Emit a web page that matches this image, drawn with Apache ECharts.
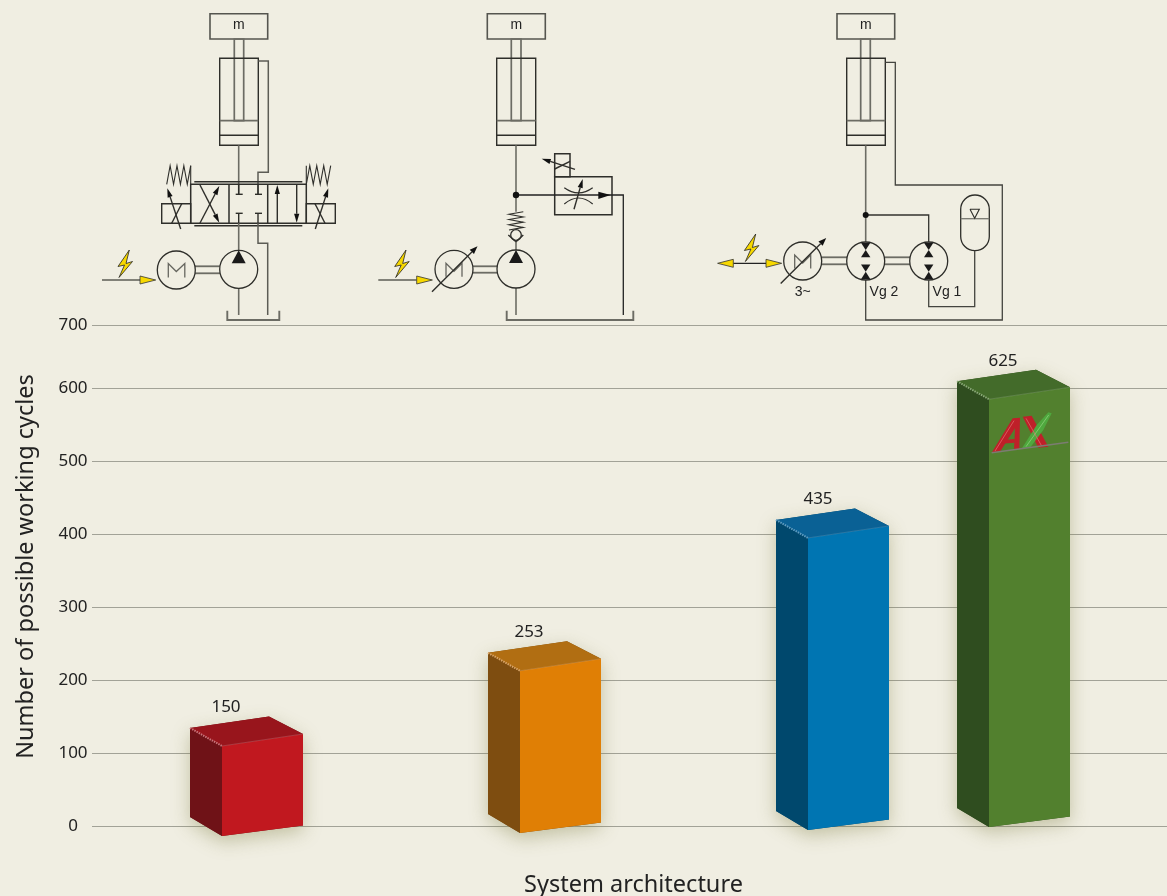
<!DOCTYPE html>
<html>
<head>
<meta charset="utf-8">
<style>html,body{margin:0;padding:0;background:#f0eee2}#chart{width:1167px;height:896px}</style>
<script src="https://cdn.jsdelivr.net/npm/echarts@6/dist/echarts.min.js"></script>
</head>
<body>
<div id="chart"></div>
<script>
// Working cycles per system architecture
const cycles = [150, 253, 435, 625];
const architecturePosition = [1.77, 4.75, 7.63, 9.44];
const labelShift = [-43, -38, -37, -33];
const baseLift = [0, 3, 6, 9];
const tickLabels = ['0', '100', '200', '300', '400', '500', '600', '700'];
const faceFront = ['#c1181f', '#e07f05', '#0075b2', '#52802e'];
const faceTop = ['#98151c', '#b16e12', '#0a6195', '#436b2a'];
const faceSide = ['#6f1217', '#7e4d10', '#00486d', '#2f4d1f'];
const edgeLight = ['#c8747a', '#d8a468', '#5f9cc0', '#8aa878'];

const INK = '#2e2e2a';
const ROD = '#6c6c64';

// Small drawing helpers for the hydraulic circuit symbols
function line(points, width, color) {
  return { type: 'polyline', silent: true, z: 20, shape: { points: points },
    style: { fill: null, stroke: color || INK, lineWidth: width || 1.4 } };
}
function box(x0, y0, x1, y1, width, color, fill) {
  return { type: 'rect', silent: true, z: 20, shape: { x: x0, y: y0, width: x1 - x0, height: y1 - y0 },
    style: { fill: fill || null, stroke: color || INK, lineWidth: width || 1.4 } };
}
function circle(cx, cy, r) {
  return { type: 'circle', silent: true, z: 20, shape: { cx: cx, cy: cy, r: r },
    style: { fill: '#f0eee2', stroke: INK, lineWidth: 1.3 } };
}
function dot(cx, cy, r) {
  return { type: 'circle', silent: true, z: 21, shape: { cx: cx, cy: cy, r: r || 3 }, style: { fill: '#111' } };
}
function poly(points, fill, stroke) {
  return { type: 'polygon', silent: true, z: 21, shape: { points: points },
    style: { fill: fill, stroke: stroke || null, lineWidth: 0.8 } };
}
function note(x, y, text) {
  return { type: 'text', silent: true, z: 22, x: x, y: y,
    style: { text: text, fill: '#222', font: '14px "Liberation Sans"', align: 'center', verticalAlign: 'middle' } };
}
function arrow(x1, y1, x2, y2, len, half) {
  const a = Math.atan2(y2 - y1, x2 - x1);
  const bx = x2 - Math.cos(a) * len, by = y2 - Math.sin(a) * len;
  const nx = -Math.sin(a) * half, ny = Math.cos(a) * half;
  return [line([[x1, y1], [bx, by]]),
    poly([[x2, y2], [bx + nx, by + ny], [bx - nx, by - ny]], '#111')];
}
function cylinder(x0, x1, rod0, rod1) {
  return [
    box(rod0, 39, rod1, 120.7, 1.7, ROD),
    box(x0, 58.3, x1, 145.3, 1.4),
    line([[x0, 120.7], [x1, 120.7]], 1.7, ROD),
    line([[x0, 135.3], [x1, 135.3]], 1.4)
  ];
}
function mass(x0, x1) {
  return [box(x0, 13.7, x1, 39, 1.6, '#55554f'), note((x0 + x1) / 2, 25.5, 'm')];
}
function bolt(dx, dy) {
  const p = [[129.3, 250], [118, 266.5], [124.5, 265], [119, 277.5], [132.5, 261.5], [126, 263.5], [129.3, 250]];
  return poly(p.map(q => [q[0] + dx, q[1] + dy]), '#f7d800', '#222');
}
function yellowArrow(x0, x1, y) {
  const d = x1 > x0 ? 1 : -1;
  return poly([[x0, y - 4], [x0 + d * 15.7, y], [x0, y + 4]], '#f7d800', '#333');
}
function pump(cx, cy) {
  return [circle(cx, cy, 19), poly([[cx, cy - 19], [cx - 7, cy - 6], [cx + 7, cy - 6]], '#1a1a1a')];
}
function bowtie(cx, cy) {
  const h = 4.7;
  const tips = [[-18.3, -11, -3.7], [3.6, 10.7, 18.3]];
  const out = [circle(cx, cy, 19)];
  tips.forEach(t => {
    out.push(poly([[cx - h, cy + t[0]], [cx + h, cy + t[0]], [cx, cy + t[1]]], '#1a1a1a'));
    out.push(poly([[cx - h, cy + t[2]], [cx + h, cy + t[2]], [cx, cy + t[1]]], '#1a1a1a'));
  });
  return out;
}
function motor(cx, cy, variable) {
  const out = [circle(cx, cy, 19)];
  if (variable) {
    out.push(line([[cx - 8, cy + 7.5], [cx - 8, cy - 6], [cx, cy + 2], [cx + 8, cy - 6], [cx + 8, cy + 7.5]], 1.3, '#66665f'));
    out.push(...arrow(cx - 22, cy + 22.5, cx + 23.5, cy - 23, 8, 3));
  } else {
    out.push(line([[cx - 8, cy + 7.5], [cx - 8, cy - 6.5], [cx, cy + 1.5], [cx + 8.5, cy - 6.5], [cx + 8.5, cy + 7.5]], 1.3, '#66665f'));
  }
  return out;
}
function shaft(x0, x1, y0, y1) {
  return [line([[x0, y0], [x1, y0]], 1.8, ROD), line([[x0, y1], [x1, y1]], 1.8, ROD)];
}
function tank(x0, x1) {
  return line([[x0, 310.7], [x0, 320], [x1, 320], [x1, 310.7]], 1.9, ROD);
}
function zigzagH(x0, x1, yA, yB, n) {
  const pts = [];
  for (let i = 0; i <= n; i++) pts.push([x0 + (x1 - x0) * i / n, i % 2 ? yA : yB]);
  return line(pts, 1.1);
}
function zigzagV(xA, xB, y0, y1, n) {
  const pts = [];
  for (let i = 0; i <= n; i++) pts.push([i % 2 ? xA : xB, y0 + (y1 - y0) * i / n]);
  return line(pts, 1.1);
}

// Circuit 1: constant pump with directional valve
const circuitValve = [
  ...mass(210, 267.7),
  ...cylinder(219.7, 258.3, 234.3, 243.7),
  line([[238.7, 145.3], [238.7, 194]], 1.6, ROD),
  line([[258.3, 61], [268.3, 61], [268.3, 172.3], [258, 172.3], [258, 194]], 1.5, '#5c5c55'),
  line([[194.3, 181.7], [302.3, 181.7]], 1.5),
  line([[194.3, 225.7], [302.3, 225.7]], 1.5),
  box(190.7, 184.3, 306.3, 223.3, 1.5),
  line([[229, 184.3], [229, 223.3]], 1.5),
  line([[267.7, 184.3], [267.7, 223.3]], 1.5),
  box(161.7, 203.7, 190.7, 223.3),
  box(306.3, 203.7, 335.3, 223.3),
  zigzagH(166.7, 190.7, 165.7, 184.3, 7),
  line([[190.7, 165.7], [190.7, 184.3]], 1.1),
  zigzagH(306.3, 330.7, 165.7, 184.3, 7),
  line([[306.3, 165.7], [306.3, 184.3]], 1.1),
  ...arrow(180.7, 229, 167.3, 188.3, 9, 2.6),
  line([[171.7, 223.3], [181.7, 203.7]]),
  ...arrow(315.3, 229, 328.3, 188.3, 9, 2.6),
  line([[315, 203.7], [325, 223.3]]),
  ...arrow(200, 185, 219.3, 222.7, 9, 2.6),
  ...arrow(200, 223, 219.3, 186, 9, 2.6),
  line([[238.7, 184.3], [238.7, 194]]), line([[235.7, 194.3], [242.7, 194.3]]),
  line([[258, 184.3], [258, 194]]), line([[255, 194.3], [262, 194.3]]),
  line([[238.7, 213.3], [238.7, 223.3]]), line([[235.7, 213.3], [242.7, 213.3]]),
  line([[258, 213.3], [258, 223.3]]), line([[255, 213.3], [262, 213.3]]),
  ...arrow(277.3, 223, 277.3, 185, 9, 2.6),
  ...arrow(296.7, 185, 296.7, 222.7, 9, 2.6),
  line([[238.7, 223.3], [238.7, 250]], 1.6, ROD),
  line([[258, 223.3], [258, 243.3], [267.7, 243.3], [267.7, 315]], 1.5, '#5c5c55'),
  line([[238.7, 288], [238.7, 315]], 1.6, ROD),
  ...shaft(195, 220, 266.3, 273.3),
  ...pump(238.7, 269.3),
  ...motor(176.3, 270, false),
  tank(227.3, 279.3),
  line([[102, 280], [140, 280]], 1.4, '#5c5c55'),
  yellowArrow(140, 155.7, 280),
  bolt(0, 0)
];

// Circuit 2: variable motor-pump with throttle valve
const circuitThrottle = [
  ...mass(487.3, 545.3),
  ...cylinder(496.7, 535.7, 511.3, 521),
  line([[516, 145.3], [516, 211.7]], 1.6, ROD),
  dot(516, 195, 3.2),
  zigzagV(509, 523.3, 211.7, 230, 7),
  { type: 'circle', silent: true, z: 20, shape: { cx: 516, cy: 235, r: 5.3 }, style: { fill: null, stroke: INK, lineWidth: 1.3 } },
  line([[508.3, 235], [516, 241.7], [523.3, 235]]),
  line([[516, 241.7], [516, 250]], 1.6, ROD),
  line([[516, 288], [516, 315]], 1.6, ROD),
  ...shaft(473, 497.3, 266.3, 272.7),
  ...pump(516, 269),
  ...motor(454, 269.3, true),
  tank(506.7, 633.3),
  box(554.7, 176.7, 612, 214.7, 1.5),
  box(554.7, 153.7, 570, 176.7, 1.5),
  ...arrow(575, 169.3, 541.7, 158.7, 9, 2.6),
  line([[554.7, 169], [570, 161.3]]),
  line([[516, 195], [623.3, 195], [623.3, 315]], 1.3, '#222'),
  poly([[610.7, 195], [598.3, 191.7], [598.3, 199]], '#111'),
  { type: 'bezierCurve', silent: true, z: 20, shape: { x1: 564.3, y1: 187.7, x2: 592.7, y2: 187.7, cpx1: 578.5, cpy1: 198 }, style: { fill: null, stroke: INK, lineWidth: 1.2 } },
  { type: 'bezierCurve', silent: true, z: 20, shape: { x1: 564.3, y1: 204, x2: 592.7, y2: 204, cpx1: 578.5, cpy1: 192 }, style: { fill: null, stroke: INK, lineWidth: 1.2 } },
  ...arrow(574, 209.3, 582.7, 179, 9, 2.6),
  line([[378.3, 280], [416.7, 280]], 1.4, '#5c5c55'),
  yellowArrow(416.7, 432.3, 280),
  bolt(276.7, 0)
];

// Circuit 3: electro-hydraulic drive with two displacement units and accumulator
const circuitDrive = [
  ...mass(837, 894.7),
  ...cylinder(846.7, 885.3, 860.7, 870.3),
  line([[865.7, 145.3], [865.7, 242.7]], 1.6, ROD),
  dot(865.7, 215, 3),
  line([[865.7, 215], [928.7, 215], [928.7, 242.7]], 1.3, '#33332f'),
  line([[885.3, 62.3], [895.3, 62.3], [895.3, 185], [1002.3, 185], [1002.3, 320], [865.7, 320], [865.7, 280]], 1.3, '#44443f'),
  ...shaft(822, 847.3, 257.3, 264.3),
  ...shaft(885, 910, 257.3, 264.3),
  ...bowtie(865.7, 261),
  ...bowtie(928.7, 261),
  ...motor(802.7, 261, true),
  { type: 'rect', silent: true, z: 20, shape: { x: 960.7, y: 195, width: 28.6, height: 55.7, r: 14.3 }, style: { fill: null, stroke: INK, lineWidth: 1.3 } },
  line([[960.7, 218.7], [989.3, 218.7]], 1.3, '#77776f'),
  line([[970, 209.3], [979.3, 209.3], [974.7, 218.3], [970, 209.3]], 1.1),
  line([[974.7, 250.7], [974.7, 306.7], [928.7, 306.7], [928.7, 280]], 1.3, '#44443f'),
  line([[733.3, 263.3], [766, 263.3]], 1.3, '#222'),
  yellowArrow(733.3, 717.7, 263.3),
  yellowArrow(766, 781.7, 263.3),
  bolt(626.4, -16),
  note(802.7, 291.7, '3~'),
  note(884, 291.7, 'Vg 2'),
  note(947, 291.7, 'Vg 1')
];

// Company mark on the tallest column
function logoPoint(x, y) { return [940 + x / 3, 350 + y / 3]; }
function logoPoly(pts, fill) {
  return { type: 'polygon', silent: true, z: 30, shape: { points: pts.map(p => logoPoint(p[0], p[1])) }, style: { fill: fill } };
}
function logoLine(a, b, color, width) {
  return { type: 'polyline', silent: true, z: 31, shape: { points: [logoPoint(a[0], a[1]), logoPoint(b[0], b[1])] },
    style: { fill: null, stroke: color, lineWidth: width } };
}
const logo = [
  logoPoly([[155, 308], [218, 205], [240, 203], [238, 298], [222, 300], [225, 235], [180, 305]], '#bf2029'),
  logoPoly([[190, 270], [224, 267], [224, 278], [184, 281]], '#bf2029'),
  logoPoly([[248, 200], [275, 197], [325, 290], [295, 293]], '#bf2029'),
  logoPoly([[245, 296], [290, 225], [325, 187], [335, 190], [310, 240], [270, 293]], '#4fa83e'),
  logoLine([165, 303], [222, 212], '#e0666a', 0.8),
  logoLine([258, 205], [305, 288], '#e0666a', 0.8),
  logoLine([258, 290], [326, 195], '#8ccf78', 0.8),
  logoLine([155, 308], [385, 277], '#7c7c72', 1.5)
];

// One box-shaped column: the rear top corner sits at the value
function renderColumn(params, api) {
  const i = params.dataIndex;
  const apex = api.coord([api.value(0), api.value(1)]);
  const base = api.coord([api.value(0), 0])[1] - baseLift[i];
  const x = apex[0], y = apex[1];
  const left = [x - 79, y + 11.5], right = [x + 34, y + 17.5], front = [x - 47, y + 29.5];
  const leftB = [x - 79, base - 9], rightB = [x + 34, base - 0.5], frontB = [x - 47, base + 10];
  return {
    type: 'group',
    children: [
      { type: 'polygon', shape: { points: [left, [x, y], right, rightB, frontB, leftB] },
        style: { fill: faceSide[i], shadowBlur: 18, shadowOffsetY: 6, shadowColor: 'rgba(120,120,60,0.38)' } },
      { type: 'polygon', shape: { points: [left, front, frontB, leftB] }, style: { fill: faceSide[i] } },
      { type: 'polygon', shape: { points: [front, right, rightB, frontB] }, style: { fill: faceFront[i] } },
      { type: 'polygon', shape: { points: [left, [x, y], right, front] }, style: { fill: faceTop[i] } },
      { type: 'line', shape: { x1: left[0], y1: left[1], x2: front[0], y2: front[1] },
        style: { stroke: edgeLight[i], lineWidth: 2, lineDash: [1.5, 1] } },
      { type: 'line', shape: { x1: front[0], y1: front[1], x2: right[0], y2: right[1] },
        style: { stroke: edgeLight[i], lineWidth: 0.6, opacity: 0.7 } },
      { type: 'text', x: x + labelShift[i], y: y - 9,
        style: { text: String(cycles[i]), fill: '#222', font: '17px "Noto Sans"', align: 'center', verticalAlign: 'middle' } }
    ]
  };
}

const chart = echarts.init(document.getElementById('chart'), null, { renderer: 'canvas' });
chart.setOption({
  animation: false,
  backgroundColor: '#f0eee2',
  textStyle: { fontFamily: '"Noto Sans"' },
  grid: { left: 92, right: 0, top: 325, bottom: 70, outerBoundsMode: 'none' },
  xAxis: {
    type: 'value', min: 0, max: 10.75,
    name: 'System architecture', nameLocation: 'middle', nameGap: 47,
    nameTextStyle: { fontSize: 23.5, color: '#222', padding: [0, 0, 0, 8] },
    axisLine: { show: false }, axisTick: { show: false }, axisLabel: { show: false }, splitLine: { show: false }
  },
  yAxis: {
    type: 'value', min: 0, max: 686.3, interval: 100,
    name: 'Number of possible working cycles', nameLocation: 'middle', nameGap: 54,
    nameTextStyle: { fontSize: 23.5, color: '#222', padding: [0, 0, 0, 18] },
    axisLine: { show: false }, axisTick: { show: false },
    axisLabel: { color: '#222', fontSize: 17, align: 'center', margin: 19, formatter: (v, idx) => tickLabels[idx] },
    splitLine: { show: true, lineStyle: { color: '#a2a297', width: 1.2 } }
  },
  series: [{
    type: 'custom',
    renderItem: renderColumn,
    data: cycles.map((c, i) => [architecturePosition[i], c]),
    clip: false
  }],
  graphic: { elements: [...circuitValve, ...circuitThrottle, ...circuitDrive, ...logo] }
});
</script>
</body>
</html>
